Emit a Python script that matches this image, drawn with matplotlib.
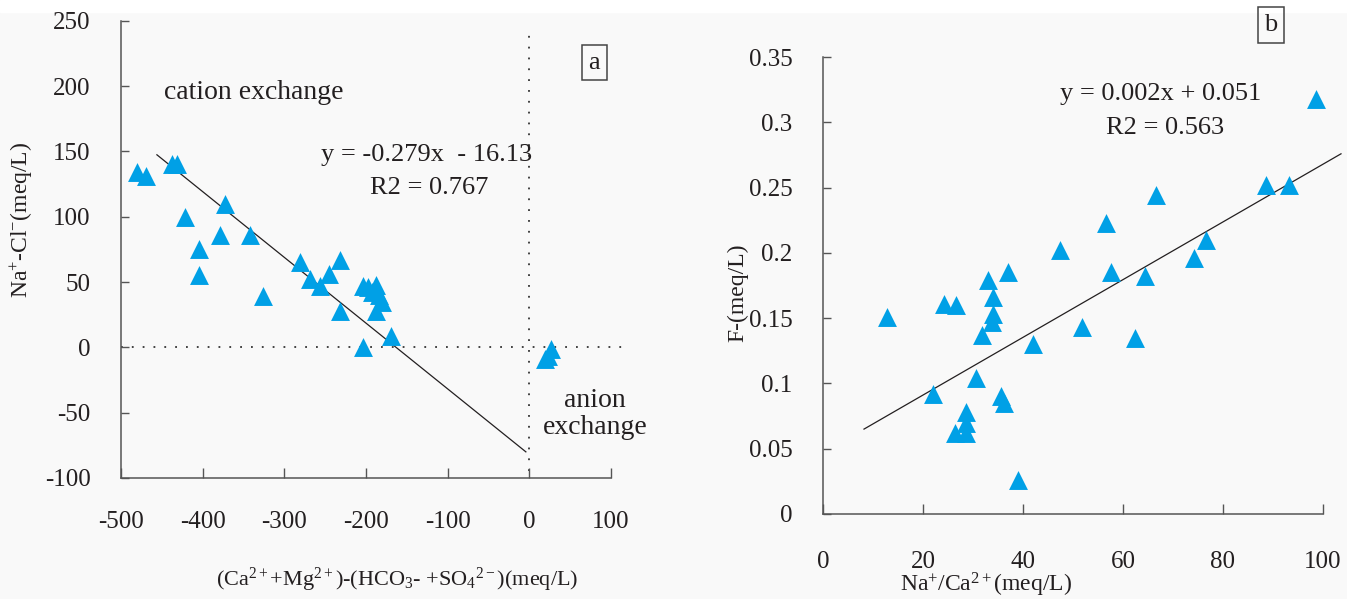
import numpy as np
import matplotlib
matplotlib.use("Agg")
import matplotlib.pyplot as plt
from matplotlib.patches import Rectangle

plt.rcParams["font.family"] = ["Liberation Serif", "DejaVu Serif"]
plt.rcParams["mathtext.fontset"] = "custom"
plt.rcParams["mathtext.rm"] = "Liberation Serif"
plt.rcParams["mathtext.it"] = "Liberation Serif:italic"
plt.rcParams["mathtext.default"] = "regular"
plt.rcParams["axes.unicode_minus"] = False

TEXT = "#231f20"
SPINE = "#555555"
BLUE = "#00a0e6"

# panel a: ion exchange
a_x = [-480, -469, -438, -432, -373, -422, -379, -342, -405, -405, -326,
       -281, -232, -268, -256, -245, -232,
       -203, -197, -192, -187, -184, -180, -188, -203, -169,
       20, 23, 27]
a_y = [134, 131, 140, 140, 110, 100, 86, 86, 75, 55, 39,
       65, 67, 52, 47, 56, 28,
       47, 46, 42, 48, 40, 35, 28, 0, 9,
       -9, -7, -1]
a_slope, a_icept = -0.503, -82.0
a_trend_range = (-456, -4)
a_xticks = [-500, -400, -300, -200, -100, 0, 100]
a_yticks = [-100, -50, 0, 50, 100, 150, 200, 250]

# panel b: fluoride vs Na/Ca
b_x = [12.9, 22.1, 24.2, 26.7, 26.4, 28.7, 28.6, 28.7, 30.7, 31.9, 33.1,
       34.1, 34.1, 33.9, 37.1, 35.6, 36.2, 39.1, 42.1, 47.5, 56.7, 66.6,
       57.7, 64.4, 51.9, 62.4, 74.3, 76.7, 88.6, 93.3, 98.7]
b_y = [0.151, 0.092, 0.161, 0.160, 0.062, 0.078, 0.070, 0.062, 0.104, 0.137, 0.179,
       0.166, 0.153, 0.147, 0.185, 0.090, 0.085, 0.026, 0.130, 0.202, 0.223, 0.244,
       0.185, 0.182, 0.143, 0.135, 0.196, 0.210, 0.252, 0.252, 0.318]
b_slope, b_icept = 0.00221, 0.0469
b_trend_range = (8.2, 103.6)
b_xticks = [0, 20, 40, 60, 80, 100]
b_yticks = [0, 0.05, 0.1, 0.15, 0.2, 0.25, 0.3, 0.35]
b_yticklabels = ["0", "0.05", "0.1", "0.15", "0.2", "0.25", "0.3", "0.35"]

W, H = 1347, 599
fig = plt.figure(figsize=(W / 100, H / 100), dpi=100, facecolor="#f9f9f9")
fig.add_artist(Rectangle((0, 1 - 12 / H), 1, 12 / H, transform=fig.transFigure,
                         color="white", zorder=0))


def px_axes(x0, y0, x1, y1):
    return fig.add_axes([x0 / W, 1 - y1 / H, (x1 - x0) / W, (y1 - y0) / H])


def style(ax, xpad):
    ax.set_facecolor("none")
    for side in ["top", "right"]:
        ax.spines[side].set_visible(False)
    for side in ["left", "bottom"]:
        ax.spines[side].set_color(SPINE)
        ax.spines[side].set_linewidth(1.1)
    ax.tick_params(axis="both", direction="in", color=SPINE, width=1.0,
                   labelsize=18, labelcolor=TEXT)
    ax.tick_params(axis="x", length=7, pad=xpad)
    ax.tick_params(axis="y", length=6, pad=22)


# ---- panel a ----
ax1 = px_axes(121, 20.7, 623, 478)
style(ax1, 24)
ax1.set_xlim(-500, 115)
ax1.set_ylim(-100, 250)
ax1.spines["bottom"].set_bounds(-500, 100)
ax1.set_xticks(a_xticks)
ax1.set_yticks(a_yticks)
ax1.axhline(0, color="#333333", lw=1.3, ls=(0, (1, 5)), zorder=1)
ax1.plot([0, 0], [-95, 245], color="#333333", lw=1.3, ls=(0, (1, 5)), zorder=1)
tx = np.array(a_trend_range)
ax1.plot(tx, a_slope * tx + a_icept, color=TEXT, lw=0.9, zorder=2)
ax1.scatter(a_x, a_y, marker="^", s=185, color=BLUE, linewidths=0, zorder=3)
ax1.text(-447, 195, "cation exchange", fontsize=20, color=TEXT, ha="left", va="center")
ax1.text(81, -51, "anion\nexchange", fontsize=20, color=TEXT, ha="center", va="center",
         linespacing=1.15)
ax1.text(-126, 147, "y = -0.279x  - 16.13", fontsize=19, color=TEXT, ha="center", va="center")
ax1.text(-122, 122, "R2 = 0.767", fontsize=19, color=TEXT, ha="center", va="center")
ax1.text(80, 218, "a", fontsize=19, color=TEXT, ha="center", va="center",
         bbox=dict(boxstyle="square,pad=0.25", fc="none", ec="#444444", lw=1.1))

fig.text(397 / W, 1 - 580 / H,
         r"(Ca$^{2+}$+Mg$^{2+}$)-(HCO$_{3}$- +SO$_{4}$$^{2-}$)(meq/L)",
         fontsize=16, color=TEXT, ha="center", va="center")
fig.text(22 / W, 1 - 220 / H, r"Na$^{+}$-Cl$^{-}$(meq/L)", fontsize=17, color=TEXT,
         ha="center", va="center", rotation=90)

# ---- panel b ----
ax2 = px_axes(823, 57, 1343, 514)
style(ax2, 27)
ax2.set_xlim(0, 104)
ax2.set_ylim(0, 0.35)
ax2.spines["bottom"].set_bounds(0, 100)
ax2.set_xticks(b_xticks)
ax2.set_yticks(b_yticks)
ax2.set_yticklabels(b_yticklabels)
tx = np.array(b_trend_range)
ax2.plot(tx, b_slope * tx + b_icept, color=TEXT, lw=0.9, zorder=2)
ax2.scatter(b_x, b_y, marker="^", s=185, color=BLUE, linewidths=0, zorder=3)
ax2.text(67.6, 0.322, "y = 0.002x + 0.051", fontsize=19, color=TEXT, ha="center", va="center")
ax2.text(68.4, 0.2956, "R2 = 0.563", fontsize=19, color=TEXT, ha="center", va="center")

fig.text(1271 / W, 1 - 25 / H, "b", fontsize=19, color=TEXT, ha="center", va="center",
         bbox=dict(boxstyle="square,pad=0.25", fc="none", ec="#444444", lw=1.1))
fig.text(986 / W, 1 - 585 / H, r"Na$^{+}$/Ca$^{2+}$(meq/L)", fontsize=17, color=TEXT,
         ha="center", va="center")
fig.text(738 / W, 1 - 293 / H, "F-(meq/L)", fontsize=17, color=TEXT,
         ha="center", va="center", rotation=90)

fig.savefig("out.png", dpi=100, facecolor=fig.get_facecolor())
